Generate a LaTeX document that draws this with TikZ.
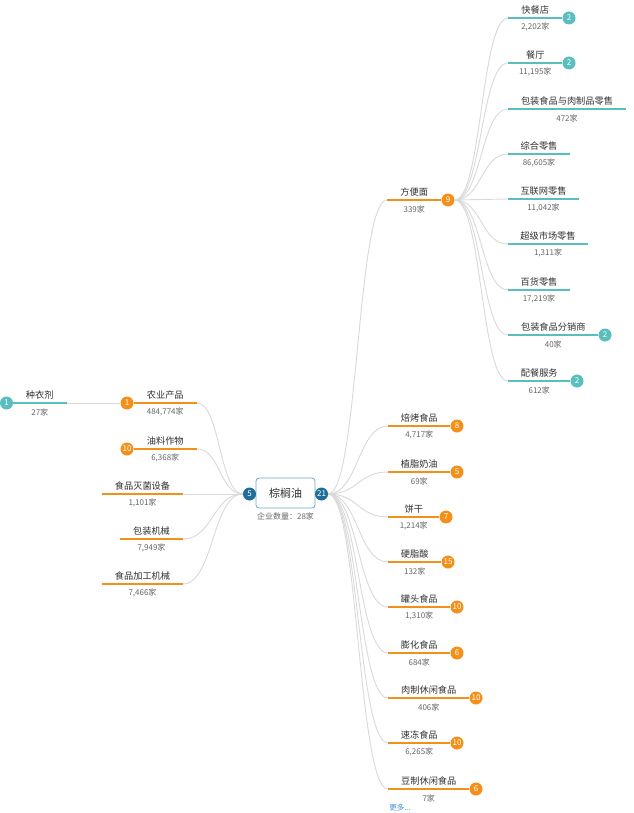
\documentclass[tikz,border=0pt]{standalone}
\usepackage{fontspec}
\setmainfont{Noto Sans CJK SC}
\definecolor{orng}{HTML}{F39019}
\definecolor{teal}{HTML}{5BBEBE}
\definecolor{navy}{HTML}{1F6E99}
\definecolor{boxline}{HTML}{6AA8C6}
\definecolor{linkgray}{HTML}{D9D9D9}
\definecolor{txt}{HTML}{2F2F2F}
\definecolor{sub}{HTML}{666666}
\definecolor{more}{HTML}{3F8FE0}
\tikzset{
  badge/.style={circle,inner sep=0pt,minimum size=13pt,text=white,font=\fontsize{8}{8}\selectfont},
  badgeo/.style={badge,fill=orng},
  badget/.style={badge,fill=teal},
  badgeb/.style={badge,fill=navy},
  oline/.style={draw=orng,line width=1.4pt},
  tline/.style={draw=teal,line width=1.4pt},
  link/.style={draw=linkgray,line width=0.9pt},
  lbl/.style={inner sep=0pt,text=txt,font=\fontsize{9.2}{10}\selectfont},
  cnt/.style={inner sep=0pt,text=sub,font=\fontsize{8}{9}\selectfont},
}
\begin{document}
\begin{tikzpicture}[x=1pt,y=1pt,yscale=-1,xscale=1]
\useasboundingbox (0,0) rectangle (633,813);

%Root node
\node [draw=boxline,fill=white,line width=0.8pt,rounded corners=3pt,minimum width=59pt,minimum height=30pt,inner sep=0pt,text=txt,font=\fontsize{11}{12}\selectfont] (root) at (285.5,493) {棕榈油};
\node [cnt] (rootcnt) at (285.5,516) {企业数量：28家};
\node [badgeb] (lb) at (249.5,494) {5};
\node [badgeb] (rb) at (321.5,494) {21};

%Left side: line ends and badges
\node [badget] (seedb) at (6.5,403) {1};
\coordinate (seede) at (67,403);
\node [badgeo] (agrib) at (127,403) {1};
\coordinate (agrie) at (197,403);
\node [badgeo] (oilb) at (127,449) {10};
\coordinate (oile) at (197,449);
\coordinate (sters) at (102,494);
\coordinate (stere) at (183,494);
\coordinate (packs) at (120,539);
\coordinate (packe) at (183,539);
\coordinate (procs) at (102,584);
\coordinate (proce) at (183,584);

%Right side: line starts and badges
\coordinate (noodles) at (387,200);
\node [badgeo] (noodleb) at (448,200) {9};
\coordinate (bakes) at (388,426);
\coordinate (creams) at (388,472);
\coordinate (biscs) at (388,517);
\coordinate (stears) at (388,562);
\coordinate (cans) at (388,607);
\coordinate (puffs) at (388,653);
\coordinate (meats) at (388,698);
\coordinate (frozs) at (388,743);
\coordinate (soys) at (388,789);
\node [badgeo] (bakeb) at (457,426) {8};
\node [badgeo] (creamb) at (457,472) {5};
\node [badgeo] (biscb) at (446,517) {7};
\node [badgeo] (stearb) at (448,562) {15};
\node [badgeo] (canb) at (457,607) {10};
\node [badgeo] (puffb) at (457,653) {6};
\node [badgeo] (meatb) at (476,698) {10};
\node [badgeo] (frozb) at (457,743) {10};
\node [badgeo] (soyb) at (476,789) {6};

%Level 3 under noodles
\coordinate (fasts) at (508,18);
\coordinate (rests) at (508,63);
\coordinate (pkrts) at (508,109);
\coordinate (pkrte) at (626,109);
\coordinate (gens) at (508,154);
\coordinate (gene) at (570,154);
\coordinate (onls) at (508,199);
\coordinate (onle) at (579,199);
\coordinate (sups) at (508,244);
\coordinate (supe) at (588,244);
\coordinate (depts) at (508,290);
\coordinate (depte) at (570,290);
\coordinate (dists) at (508,335);
\coordinate (cats) at (508,381);
\node [badget] (fastb) at (569,18) {2};
\node [badget] (restb) at (569,63) {2};
\node [badget] (distb) at (605,335) {2};
\node [badget] (catb) at (577,381) {2};

%Links
\draw [link] (seede) -- (agrib);
\draw [link] (agrie) .. controls +(23,0) and +(-23,0) .. (lb.west);
\draw [link] (oile) .. controls +(23,0) and +(-23,0) .. (lb.west);
\draw [link] (stere) -- (lb);
\draw [link] (packe) .. controls +(30,0) and +(-30,0) .. (lb.west);
\draw [link] (proce) .. controls +(30,0) and +(-30,0) .. (lb.west);
\draw [link] (rb.east) .. controls +(30,0) and +(-30,0) .. (noodles);
\draw [link] (rb.east) .. controls +(30,0) and +(-30,0) .. (bakes);
\draw [link] (rb.east) .. controls +(30,0) and +(-30,0) .. (creams);
\draw [link] (rb.east) .. controls +(30,0) and +(-30,0) .. (biscs);
\draw [link] (rb.east) .. controls +(30,0) and +(-30,0) .. (stears);
\draw [link] (rb.east) .. controls +(30,0) and +(-30,0) .. (cans);
\draw [link] (rb.east) .. controls +(30,0) and +(-30,0) .. (puffs);
\draw [link] (rb.east) .. controls +(30,0) and +(-30,0) .. (meats);
\draw [link] (rb.east) .. controls +(30,0) and +(-30,0) .. (frozs);
\draw [link] (rb.east) .. controls +(30,0) and +(-30,0) .. (soys);
\draw [link] (noodleb.east) .. controls +(27,0) and +(-27,0) .. (fasts);
\draw [link] (noodleb.east) .. controls +(27,0) and +(-27,0) .. (rests);
\draw [link] (noodleb.east) .. controls +(27,0) and +(-27,0) .. (pkrts);
\draw [link] (noodleb.east) .. controls +(27,0) and +(-27,0) .. (gens);
\draw [link] (noodleb.east) .. controls +(27,0) and +(-27,0) .. (onls);
\draw [link] (noodleb.east) .. controls +(27,0) and +(-27,0) .. (sups);
\draw [link] (noodleb.east) .. controls +(27,0) and +(-27,0) .. (depts);
\draw [link] (noodleb.east) .. controls +(27,0) and +(-27,0) .. (dists);
\draw [link] (noodleb.east) .. controls +(27,0) and +(-27,0) .. (cats);

%Underlines
\draw [tline] (seedb) -- (seede);
\draw [oline] (agrib) -- (agrie);
\draw [oline] (oilb) -- (oile);
\draw [oline] (sters) -- (stere);
\draw [oline] (packs) -- (packe);
\draw [oline] (procs) -- (proce);
\draw [oline] (noodles) -- (noodleb);
\draw [oline] (bakes) -- (bakeb);
\draw [oline] (creams) -- (creamb);
\draw [oline] (biscs) -- (biscb);
\draw [oline] (stears) -- (stearb);
\draw [oline] (cans) -- (canb);
\draw [oline] (puffs) -- (puffb);
\draw [oline] (meats) -- (meatb);
\draw [oline] (frozs) -- (frozb);
\draw [oline] (soys) -- (soyb);
\draw [tline] (fasts) -- (fastb);
\draw [tline] (rests) -- (restb);
\draw [tline] (pkrts) -- (pkrte);
\draw [tline] (gens) -- (gene);
\draw [tline] (onls) -- (onle);
\draw [tline] (sups) -- (supe);
\draw [tline] (depts) -- (depte);
\draw [tline] (dists) -- (distb);
\draw [tline] (cats) -- (catb);

% Text Node: left
\node [lbl] (seedl) at (39.75,395) {种衣剂};
\node [cnt] (seedc) at (39.75,412) {27家};
\node [lbl] (agril) at (165.25,395) {农业产品};
\node [cnt] (agric) at (165.25,412) {484,774家};
\node [lbl] (oill) at (165.25,441) {油料作物};
\node [cnt] (oilc) at (165.25,458) {6,368家};
\node [lbl] (sterl) at (142.5,486) {食品灭菌设备};
\node [cnt] (sterc) at (142.5,503) {1,101家};
\node [lbl] (packl) at (151.5,531) {包装机械};
\node [cnt] (packc) at (151.5,548) {7,949家};
\node [lbl] (procl) at (142.5,576) {食品加工机械};
\node [cnt] (procc) at (142.5,593) {7,466家};

% Text Node: right
\node [lbl] (noodlel) at (414.25,192) {方便面};
\node [cnt] (noodlec) at (414.25,209) {339家};
\node [lbl] (bakel) at (419.25,418) {焙烤食品};
\node [cnt] (bakec) at (419.25,435) {4,717家};
\node [lbl] (creaml) at (419.25,464) {植脂奶油};
\node [cnt] (creamc) at (419.25,481) {69家};
\node [lbl] (biscl) at (413.75,509) {饼干};
\node [cnt] (biscc) at (413.75,526) {1,214家};
\node [lbl] (stearl) at (414.75,554) {硬脂酸};
\node [cnt] (stearc) at (414.75,571) {132家};
\node [lbl] (canl) at (419.25,599) {罐头食品};
\node [cnt] (canc) at (419.25,616) {1,310家};
\node [lbl] (puffl) at (419.25,645) {膨化食品};
\node [cnt] (puffc) at (419.25,662) {684家};
\node [lbl] (meatl) at (428.75,690) {肉制休闲食品};
\node [cnt] (meatc) at (428.75,707) {406家};
\node [lbl] (frozl) at (419.25,735) {速冻食品};
\node [cnt] (frozc) at (419.25,752) {6,265家};
\node [lbl] (soyl) at (428.75,781) {豆制休闲食品};
\node [cnt] (soyc) at (428.75,798) {7家};
\node [inner sep=0pt,text=more,font=\fontsize{7.5}{8}\selectfont] (morel) at (400,808) {更多...};

% Text Node: level 3
\node [lbl] (fastl) at (535.25,10) {快餐店};
\node [cnt] (fastc) at (535.25,27) {2,202家};
\node [lbl] (restl) at (535.25,55) {餐厅};
\node [cnt] (restc) at (535.25,72) {11,195家};
\node [lbl] (pkrtl) at (567,101) {包装食品与肉制品零售};
\node [cnt] (pkrtc) at (567,118) {472家};
\node [lbl] (genl) at (539,146) {综合零售};
\node [cnt] (genc) at (539,163) {86,605家};
\node [lbl] (onll) at (543.5,191) {互联网零售};
\node [cnt] (onlc) at (543.5,208) {11,042家};
\node [lbl] (supl) at (548,236) {超级市场零售};
\node [cnt] (supc) at (548,253) {1,311家};
\node [lbl] (deptl) at (539,282) {百货零售};
\node [cnt] (deptc) at (539,299) {17,219家};
\node [lbl] (distl) at (553.25,327) {包装食品分销商};
\node [cnt] (distc) at (553.25,344) {40家};
\node [lbl] (catl) at (539.25,373) {配餐服务};
\node [cnt] (catc) at (539.25,390) {612家};

\end{tikzpicture}
\end{document}
